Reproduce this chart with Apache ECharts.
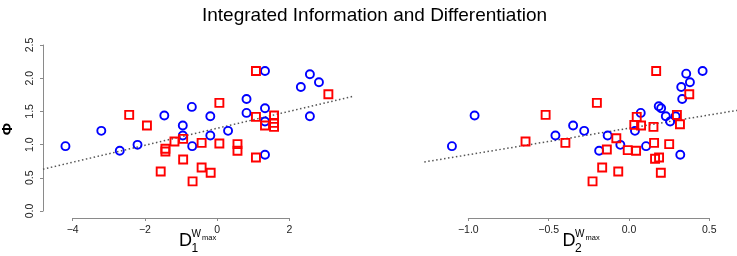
<!DOCTYPE html>
<html>
<head>
<meta charset="utf-8">
<script src="https://cdn.jsdelivr.net/npm/echarts@6/dist/echarts.min.js"></script>
<style>
  html, body { margin: 0; padding: 0; background: #fff; }
  #chart { width: 737px; height: 256px; }
</style>
</head>
<body>
<div id="chart"></div>
<script>
// left panel: D1 (blue circles / red squares) against Phi
var d1Blue = [-4.19, -3.20, -2.69, -2.20, -1.46, -0.95, -0.95, -0.70, -0.69, -0.19, -0.19, 0.30, 0.81, 0.81, 1.32, 1.32, 1.32, 1.32, 2.31, 2.56, 2.81, 2.56]
var phiBlueL = [0.98, 1.21, 0.91, 1.00, 1.44, 1.29, 1.14, 1.57, 0.98, 1.43, 1.14, 1.21, 1.69, 1.48, 2.11, 1.55, 1.35, 0.85, 1.87, 2.06, 1.94, 1.43]
var d1Red = [-2.43, -1.94, -1.43, -1.43, -1.18, -1.56, -0.94, -0.94, -0.68, -0.43, -0.43, -0.18, 0.06, 0.06, 0.56, 0.56, 1.07, 1.07, 1.07, 1.32, 1.57, 1.57, 1.57, 3.07]
var phiRedL = [1.45, 1.29, 0.94, 0.90, 1.05, 0.60, 1.09, 0.78, 0.45, 1.03, 0.66, 0.58, 1.63, 1.02, 1.01, 0.91, 2.11, 1.42, 0.81, 1.29, 1.44, 1.33, 1.27, 1.76]

// right panel: D2
var d2Blue = [-1.104, -0.963, -0.460, -0.350, -0.281, -0.188, -0.135, -0.056, 0.035, 0.071, 0.104, 0.183, 0.198, 0.227, 0.254, 0.288, 0.317, 0.323, 0.329, 0.354, 0.377, 0.456]
var phiBlueR = [0.98, 1.44, 1.14, 1.29, 1.21, 0.91, 1.14, 1.00, 1.21, 1.48, 0.98, 1.58, 1.55, 1.43, 1.35, 1.43, 0.85, 1.87, 1.69, 2.07, 1.94, 2.11]
var d2Red = [-0.646, -0.521, -0.398, -0.229, -0.202, -0.169, -0.140, -0.081, -0.069, -0.010, 0.042, 0.046, 0.031, 0.073, 0.150, 0.154, 0.167, 0.160, 0.185, 0.196, 0.248, 0.296, 0.315, 0.373]
var phiRedR = [1.05, 1.45, 1.03, 0.45, 1.63, 0.66, 0.93, 1.10, 0.60, 0.92, 0.91, 1.42, 1.30, 1.29, 1.27, 1.03, 2.11, 0.79, 0.81, 0.58, 1.01, 1.45, 1.31, 1.76]

var phiTicks = [0, 2.5]
var d1Ticks = [-4, 2]
var d2Ticks = [-1, 0.5]

var AXIS = '#8a8a8a'
var TXT = '#222'
var FONT = '"Liberation Sans", Arial, sans-serif'

function zip (xs, ys) {
  return xs.map(function (x, i) { return [x, ys[i]] })
}

// least squares line through both groups, drawn across the plot region
function fitLine (xs, ys, x0, x1) {
  var n = xs.length
  var mx = xs.reduce(function (a, b) { return a + b }, 0) / n
  var my = ys.reduce(function (a, b) { return a + b }, 0) / n
  var sxy = 0, sxx = 0
  for (var i = 0; i < n; i++) {
    sxy += (xs[i] - mx) * (ys[i] - my)
    sxx += (xs[i] - mx) * (xs[i] - mx)
  }
  var b = sxy / sxx
  var a = my - b * mx
  return [[x0, a + b * x0], [x1, a + b * x1]]
}

var leftRange = [-4.81, 3.75]
var rightRange = [-1.276, 0.67]

var trendL = fitLine(d1Blue.concat(d1Red), phiBlueL.concat(phiRedL), leftRange[0], leftRange[1])
var trendR = fitLine(d2Blue.concat(d2Red), phiBlueR.concat(phiRedR), rightRange[0], rightRange[1])

function minus (s) { return s.replace('-', '\u2212') }

function shownAxis (grid, min, max, interval, fmt, rotate) {
  return {
    gridIndex: grid,
    type: 'value',
    min: min,
    max: max,
    interval: interval,
    axisLine: { show: true, lineStyle: { color: AXIS, width: 1 } },
    axisTick: { show: true, length: 3, lineStyle: { color: AXIS } },
    axisLabel: { color: TXT, fontSize: 10.5, fontFamily: FONT, margin: 7, rotate: rotate || 0, formatter: fmt },
    splitLine: { show: false }
  }
}

function hiddenAxis (grid, min, max) {
  return { gridIndex: grid, type: 'value', min: min, max: max, show: false }
}

function circles (x, y, data) {
  return {
    type: 'scatter', xAxisIndex: x, yAxisIndex: y, data: data,
    symbol: 'circle', symbolSize: 8,
    itemStyle: { color: 'rgba(0,0,0,0)', borderColor: '#0000ff', borderWidth: 1.9, opacity: 1 },
    emphasis: { disabled: true }
  }
}

function squares (x, y, data) {
  return {
    type: 'scatter', xAxisIndex: x, yAxisIndex: y, data: data,
    symbol: 'rect', symbolSize: 8,
    itemStyle: { color: 'rgba(0,0,0,0)', borderColor: '#ff0000', borderWidth: 1.9, opacity: 1 },
    emphasis: { disabled: true }
  }
}

function trend (x, y, data) {
  return {
    type: 'line', xAxisIndex: x, yAxisIndex: y, data: data,
    showSymbol: false, silent: true, z: 1,
    lineStyle: { color: '#555', width: 1.5, type: [1.5, 2.5] }
  }
}

function dLabel (x, sub) {
  // D_sub ^ W_max, laid out as text pieces
  return {
    type: 'group', left: x, top: 229,
    children: [
      { type: 'text', x: 0, y: 5, style: { text: 'D', font: '18px ' + FONT, fill: '#000' } },
      { type: 'text', x: 12.5, y: 15, style: { text: sub, font: '12px ' + FONT, fill: '#000' } },
      { type: 'text', x: 12.5, y: 1.5, style: { text: 'W', font: '10px ' + FONT, fill: '#000' } },
      { type: 'text', x: 23, y: 6, style: { text: 'max', font: '7.5px ' + FONT, fill: '#000' } }
    ]
  }
}

var chart = echarts.init(document.getElementById('chart'))
chart.setOption({
  animation: false,
  title: {
    text: 'Integrated Information and Differentiation',
    left: 197, top: 1,
    textStyle: { fontSize: 19, fontWeight: 'normal', fontFamily: FONT, color: '#000' }
  },
  grid: [
    { left: 43, right: 384, top: 38.4, bottom: 38 },
    { left: 72.7, right: 447.7, top: 200, bottom: 38 },
    { left: 43, width: 20, top: 45, bottom: 45 },
    { left: 424.3, right: 0, top: 38.4, bottom: 38 },
    { left: 468.3, right: 27.7, top: 200, bottom: 38 }
  ],
  xAxis: [
    hiddenAxis(0, leftRange[0], leftRange[1]),
    shownAxis(1, d1Ticks[0], d1Ticks[1], 2, function (v) { return minus(String(v)) }),
    hiddenAxis(2, 0, 1),
    hiddenAxis(3, rightRange[0], rightRange[1]),
    shownAxis(4, d2Ticks[0], d2Ticks[1], 0.5, function (v) { return minus(v.toFixed(1)) })
  ],
  yAxis: [
    hiddenAxis(0, -0.1, 2.6),
    hiddenAxis(1, 0, 1),
    shownAxis(2, phiTicks[0], phiTicks[1], 0.5, function (v) { return v.toFixed(1) }, 90),
    hiddenAxis(3, -0.1, 2.6),
    hiddenAxis(4, 0, 1)
  ],
  series: [
    trend(0, 0, trendL),
    circles(0, 0, zip(d1Blue, phiBlueL)),
    squares(0, 0, zip(d1Red, phiRedL)),
    trend(3, 3, trendR),
    circles(3, 3, zip(d2Blue, phiBlueR)),
    squares(3, 3, zip(d2Red, phiRedR))
  ],
  graphic: [
    {
      type: 'text', x: 8, y: 129, rotation: Math.PI / 2,
      style: { text: '\u03A6', font: 'bold 15px ' + FONT, fill: '#000', align: 'center', verticalAlign: 'middle', textAlign: 'center', textVerticalAlign: 'middle' }
    },
    dLabel(179, '1'),
    dLabel(562.5, '2')
  ]
})
</script>
</body>
</html>
